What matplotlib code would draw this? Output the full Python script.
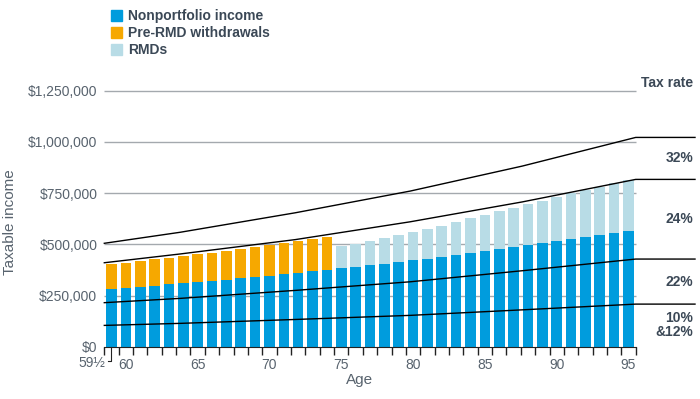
import matplotlib
matplotlib.use("Agg")
import matplotlib.pyplot as plt
from matplotlib.patches import Rectangle
from matplotlib.ticker import FuncFormatter

plt.rcParams['font.family'] = ['Liberation Sans', 'DejaVu Sans']

# ages (first bar is labelled 59½)
ages = list(range(59, 96))

# taxable income components, in $ thousands
nonportfolio = [282, 288, 293, 298, 305, 309, 316, 322, 327, 334, 339, 345, 353,
                361, 368, 374, 383, 391, 399, 405, 414, 422, 430, 440, 448, 456,
                466, 476, 485, 495, 505, 515, 524, 534, 544, 555, 566]
pre_rmd = [120, 122, 124, 129, 130, 132, 135, 137, 140, 143, 146, 150, 152, 154,
           158, 162]  # ages 59-74
rmds = [107, 112, 117, 126, 131, 138, 145, 151, 159, 171, 179, 185, 194, 200,
        208, 216, 225, 231, 237, 243, 248]  # ages 75-95

# tax bracket tops, in $ thousands
bracket_ages = [58.5, 63.8, 71.8, 79.8, 87.6, 95.5]
bracket_12 = [104, 114, 133, 153, 180, 208]
bracket_22 = [215, 236, 275, 317, 371, 428]
bracket_24 = [410, 453, 523, 610, 707, 817]
bracket_32 = [505, 559, 654, 760, 882, 1022]
rate_labels = ["10%\n&12%", "22%", "24%", "32%"]

legend_labels = ["Nonportfolio income", "Pre-RMD withdrawals", "RMDs"]
BLUE = "#009cdd"
ORANGE = "#f6a800"
LIGHT = "#b8dce6"
DARK = "#3b4856"
GREY = "#58636e"

K = 1000
XMAX = 99.63

fig = plt.figure(figsize=(7, 3.99), dpi=100)
ax = fig.add_axes([104.3 / 700, 1 - 346.7 / 399, (695 - 104.3) / 700, 266.2 / 399])

n_pre = len(pre_rmd)
ax.bar(ages, [v * K for v in nonportfolio], width=0.74, color=BLUE, zorder=2)
ax.bar(ages[:n_pre], [v * K for v in pre_rmd], width=0.74,
       bottom=[v * K for v in nonportfolio[:n_pre]], color=ORANGE, zorder=2)
ax.bar(ages[n_pre:], [v * K for v in rmds], width=0.74,
       bottom=[v * K for v in nonportfolio[n_pre:]], color=LIGHT, zorder=2)

yticks = [0, 250000, 500000, 750000, 1000000, 1250000]
ax.hlines(yticks[1:], 58.5, 95.5, color="#a4a9ae", lw=1, zorder=1)

# bracket lines run past the last bar to the right edge
brackets = [bracket_12, bracket_22, bracket_24, bracket_32]
for vals in brackets:
    ax.plot(bracket_ages + [XMAX], [v * K for v in vals] + [vals[-1] * K],
            color="black", lw=1.0, zorder=3, clip_on=False)

lows = [0] + [b[-1] for b in brackets[:-1]]
for lab, lo, b in zip(rate_labels, lows, brackets):
    ax.text(99.5, (lo + b[-1]) / 2 * K, lab, ha="right", va="center",
            fontsize=10, fontweight="bold", color=DARK, linespacing=1.0)
ax.text(99.5, 1288000, "Tax rate", ha="right", va="center",
        fontsize=10, fontweight="bold", color=DARK)

ax.set_xlim(58.5, XMAX)
ax.set_ylim(0, 1300000)

for s in ["top", "right", "left"]:
    ax.spines[s].set_visible(False)
ax.spines["bottom"].set_bounds(58.5, 95.5)
ax.spines["bottom"].set_color("#222222")

ax.set_xticks(range(60, 96, 5))
ax.set_xticks([58.5 + i for i in range(38)], minor=True)
ax.tick_params(axis="x", which="major", length=0, pad=8, labelsize=10, labelcolor=GREY)
ax.tick_params(axis="x", which="minor", length=6, width=1, color="#222222")

ax.set_yticks(yticks)
ax.yaxis.set_major_formatter(FuncFormatter(lambda v, p: f"${v:,.0f}"))
ax.tick_params(axis="y", length=0, pad=5, labelsize=10, labelcolor=GREY)

# 59½ label with small leader to the first bar
ax.text(58.55, -82000, "59½", ha="right", va="center", fontsize=10, color=GREY,
        clip_on=False)
ax.plot([58.74, 59, 59], [-68000, -68000, 0], color="#222222", lw=0.8, clip_on=False)

fig.text(10.5 / 700, 1 - 222 / 399, "Taxable income", rotation=90, ha="center",
         va="center", fontsize=11, color=GREY)
fig.text(360 / 700, 1 - 380 / 399, "Age", ha="center", va="center",
         fontsize=11, color=GREY)

for i, (lab, col) in enumerate(zip(legend_labels, [BLUE, ORANGE, LIGHT])):
    yc = 15.7 + 17 * i
    fig.add_artist(Rectangle((111 / 700, 1 - (yc + 5.5) / 399), 11 / 700, 11 / 399,
                             transform=fig.transFigure, color=col))
    fig.text(128 / 700, 1 - yc / 399, lab, va="center", fontsize=10,
             fontweight="bold", color=DARK)

fig.savefig("out.png", dpi=100)
